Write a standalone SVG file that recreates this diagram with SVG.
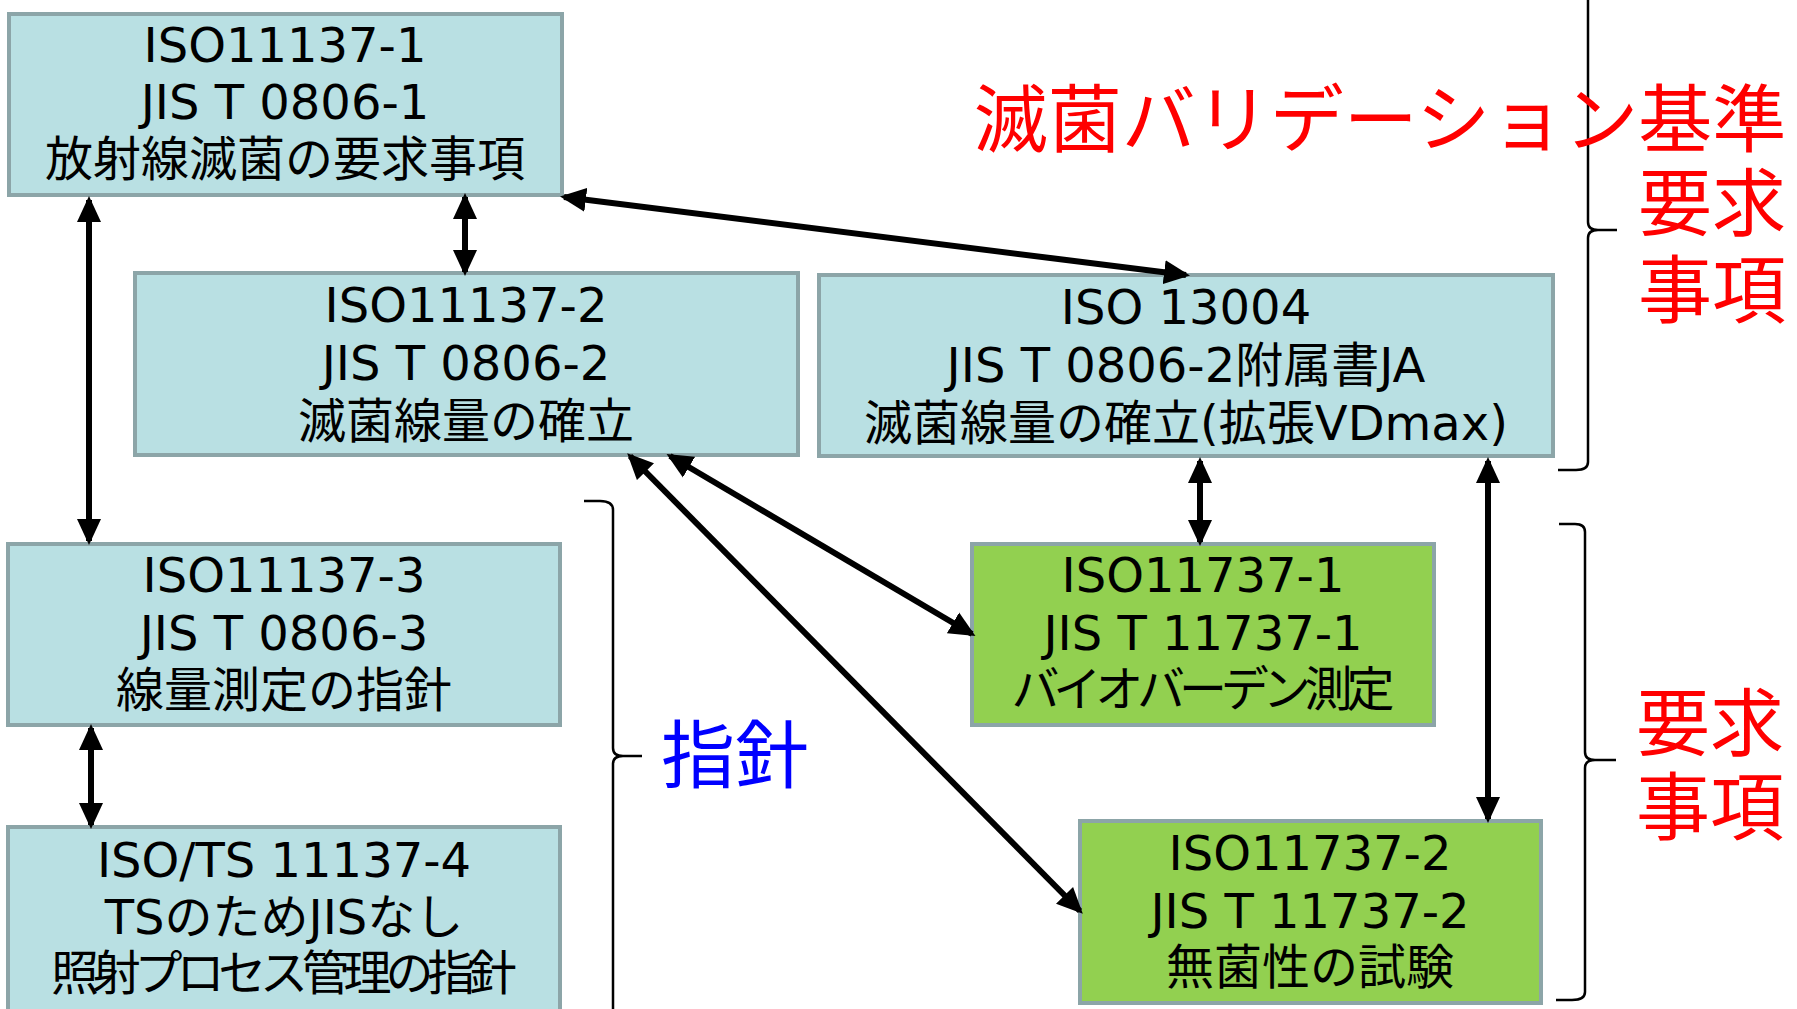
<svg xmlns="http://www.w3.org/2000/svg" width="1797" height="1009" viewBox="0 0 1797 1009">
<style>
.box{stroke:#8CA5A8;stroke-width:4}
.blue{fill:#B9E0E3}
.green{fill:#92D050}
.t{font-family:"DejaVu Sans","Noto Sans CJK JP",sans-serif;font-size:48px;fill:#000;text-anchor:middle}
.big{font-family:"Noto Sans CJK JP",sans-serif;font-size:74px;text-anchor:middle}
.red{fill:#FF0000}
.bl{fill:#0000FF}
.con{stroke:#000;stroke-width:6;fill:none;marker-start:url(#ah);marker-end:url(#ah)}
.brace{stroke:#000;stroke-width:2.5;fill:none}
</style>
<defs>
<marker id="ah" markerUnits="userSpaceOnUse" markerWidth="26" markerHeight="26" viewBox="0 0 26 26" refX="22" refY="13" orient="auto-start-reverse">
<path d="M0,1 L26,13 L0,25 z" fill="#000"/>
</marker>
</defs>
<rect width="1797" height="1009" fill="#fff"/>

<g id="n1">
<rect class="box blue" x="9" y="14" width="553" height="181"/>
<text class="t" x="285" y="62">ISO11137-1</text>
<text class="t" x="285" y="119">JIS T 0806-1</text>
<text class="t" x="285" y="176">放射線滅菌の要求事項</text>
</g>
<g id="n2">
<rect class="box blue" x="135" y="273" width="663" height="182"/>
<text class="t" x="466" y="322">ISO11137-2</text>
<text class="t" x="466" y="380">JIS T 0806-2</text>
<text class="t" x="466" y="438">滅菌線量の確立</text>
</g>
<g id="n3">
<rect class="box blue" x="819" y="275" width="734" height="181"/>
<text class="t" x="1186" y="324">ISO 13004</text>
<text class="t" x="1186" y="382">JIS T 0806-2附属書JA</text>
<text class="t" x="1186" y="440">滅菌線量の確立(拡張VDmax)</text>
</g>
<g id="n4">
<rect class="box blue" x="8" y="544" width="552" height="181"/>
<text class="t" x="284" y="592">ISO11137-3</text>
<text class="t" x="284" y="650">JIS T 0806-3</text>
<text class="t" x="284" y="707">線量測定の指針</text>
</g>
<g id="n5">
<rect class="box blue" x="8" y="827" width="552" height="195"/>
<text class="t" x="284" y="877">ISO/TS 11137-4</text>
<text class="t" x="284" y="934">TSのためJISなし</text>
<text class="t" x="284" y="990" textLength="466">照射プロセス管理の指針</text>
</g>
<g id="n6">
<rect class="box green" x="972" y="544" width="462" height="181"/>
<text class="t" x="1203" y="592">ISO11737-1</text>
<text class="t" x="1203" y="650">JIS T 11737-1</text>
<text class="t" x="1203" y="706" textLength="383">バイオバーデン測定</text>
</g>
<g id="n7">
<rect class="box green" x="1080" y="821" width="461" height="182"/>
<text class="t" x="1310" y="870">ISO11737-2</text>
<text class="t" x="1310" y="928">JIS T 11737-2</text>
<text class="t" x="1310" y="984">無菌性の試験</text>
</g>

<g id="connectors">
<line class="con" x1="89" y1="200" x2="89" y2="541"/>
<line class="con" x1="465" y1="197" x2="465" y2="272"/>
<line class="con" x1="564" y1="197" x2="1186" y2="275"/>
<line class="con" x1="91" y1="728" x2="91" y2="825"/>
<line class="con" x1="670" y1="456" x2="972" y2="634"/>
<line class="con" x1="630" y1="456" x2="1080" y2="911"/>
<line class="con" x1="1200" y1="461" x2="1200" y2="542"/>
<line class="con" x1="1488" y1="461" x2="1488" y2="819"/>
</g>

<g id="braces">
<path class="brace" d="M1588,-10 V222 Q1588,230 1598,230 H1617 M1598,230 Q1588,230 1588,238 V462 Q1588,470 1576,470 H1558"/>
<path class="brace" d="M584,501 H600 Q613,501 613,510 V748 Q613,756 623,756 H642 M623,756 Q613,756 613,764 V1015"/>
<path class="brace" d="M1559,524 H1575 Q1585,524 1585,532 V752 Q1585,760 1595,760 H1616 M1595,760 Q1585,760 1585,768 V992 Q1585,1000 1572,1000 H1556"/>
</g>

<g id="labels">
<text class="big red" x="1380" y="146">滅菌バリデーション基準</text>
<text class="big red" x="1712" y="230">要求</text>
<text class="big red" x="1712" y="317">事項</text>
<text class="big red" x="1710" y="750">要求</text>
<text class="big red" x="1710" y="834">事項</text>
<text class="big bl" x="735" y="782">指針</text>
</g>
</svg>
